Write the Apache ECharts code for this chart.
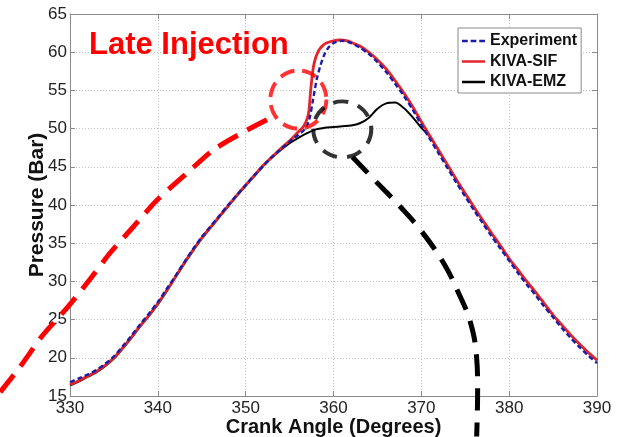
<!DOCTYPE html>
<html>
<head>
<meta charset="utf-8">
<script src="https://cdn.jsdelivr.net/npm/echarts@6/dist/echarts.min.js"></script>
<style>
html,body{margin:0;padding:0;background:#fff;}
#chart{width:619px;height:437px;}
</style>
</head>
<body>
<div id="chart"></div>
<script>
// ---- data ----
var xTicks = [330, 340, 350, 360, 370, 380, 390];
var yTicks = [15, 20, 25, 30, 35, 40, 45, 50, 55, 60, 65];

var expAngles = [330,331,332,333,334,335,336,337,338,339,340,341,342,343,344,345,346,347,348,349,350,351,352,353,354,355,356,356.7,357.2,357.7,358.1,358.5,359,359.5,360,361,362,363,364,365,366,367,368,369,370,371,372,373,374,375,376,377,378,379,380,381,382,383,384,385,386,387,388,389,390];
var expPressure = [16.8,17.3,17.8,18.4,19.2,20.2,21.5,22.9,24.4,25.8,27.3,29.0,30.7,32.5,34.2,35.8,37.2,38.6,40.0,41.3,42.6,43.9,45.1,46.3,47.3,48.3,49.2,49.9,51.0,54.0,56.5,58.2,59.8,60.7,61.2,61.5,61.2,60.6,59.8,58.7,57.4,55.9,54.3,52.5,50.5,48.6,46.7,44.8,42.9,41.1,39.3,37.6,35.9,34.3,32.7,31.1,29.6,28.2,26.7,25.3,23.9,22.6,21.4,20.3,19.3];

var sifAngles = [330,331,332,333,334,335,336,337,338,339,340,341,342,343,344,345,346,347,348,349,350,351,352,353,354,355,356,356.6,357,357.2,357.4,357.7,358,358.4,358.8,359.2,360,360.7,361.5,362,363,364,365,366,367,368,369,370,371,372,373,374,375,376,377,378,379,380,381,382,383,384,385,386,387,388,389,390];
var sifPressure = [16.5,17.0,17.6,18.2,19.0,20.0,21.3,22.7,24.2,25.6,27.1,28.8,30.6,32.4,34.1,35.7,37.1,38.5,39.9,41.3,42.6,43.9,45.2,46.3,47.4,48.4,49.6,50.3,51.3,52.3,55.0,58.0,59.4,60.4,60.9,61.2,61.5,61.6,61.5,61.3,60.8,60.0,59.0,57.8,56.3,54.7,52.9,50.9,49.0,47.1,45.2,43.3,41.5,39.7,38.0,36.3,34.7,33.0,31.5,30.0,28.6,27.1,25.6,24.3,23.0,21.8,20.7,19.7];

var emzAngles = [330,331,332,333,334,335,336,337,338,339,340,341,342,343,344,345,346,347,348,349,350,351,352,353,354,355,356,357,358,359,360,361,362,363,364,365,366,367,368,369,370,371,372,373,374,375,376,377,378,379,380,381,382,383,384,385,386,387,388,389,390];
var emzPressure = [16.4,16.9,17.5,18.1,18.9,19.9,21.2,22.6,24.1,25.5,27.0,28.7,30.5,32.3,34.0,35.6,37.0,38.4,39.8,41.2,42.5,43.8,45.1,46.2,47.2,48.1,48.8,49.4,49.9,50.1,50.2,50.3,50.4,50.7,51.4,52.6,53.3,53.4,52.7,51.5,50.1,48.9,47.1,45.2,43.3,41.5,39.7,38.0,36.3,34.7,33.0,31.5,30.0,28.6,27.1,25.6,24.3,23.0,21.8,20.7,19.7];

// annotation strokes (hand-drawn marks on the reference), in data units
var redArcAngles = [322.05,324.3,326.92,329.66,331.94,334.56,337.19,339.92,343.34,346.31,350.18,352.81];
var redArcPressure = [15.5,18.8,22.98,26.52,29.79,33.72,37.12,40.65,44.19,47.2,49.82,51.39];
var blackArcAngles = [362.16,364.78,367.63,369.91,372.53,374.24,375.61,376.29,376.41,376.3];
var blackArcPressure = [46.28,43.14,39.74,36.73,32.41,28.48,24.55,20.10,15.79,9.7];
var redCircle = [356.0, 53.8];
var blackCircle = [361.0, 49.9];

var seriesNames = ['Experiment', 'KIVA-SIF', 'KIVA-EMZ'];
var annotationText = 'Late Injection';

function pairs(a, b) { return a.map(function (v, i) { return [v, b[i]]; }); }

var FONT = '"Liberation Sans", Arial, Helvetica, sans-serif';
var chart = echarts.init(document.getElementById('chart'), null, {renderer: 'canvas'});

// plot box in pixels
var W = 619, H = 437, L = 70, R = 22, T = 14, B = 41;
var xMin = xTicks[0], xMax = xTicks[xTicks.length - 1];
var yMin = yTicks[0], yMax = yTicks[yTicks.length - 1];
var pxPerX = (W - L - R) / (xMax - xMin);
var pxPerY = (H - T - B) / (yMax - yMin);
// overlay axes covering the whole canvas with the same scale (for the hand-drawn marks)
var ovXMin = xMin - L / pxPerX, ovXMax = xMax + R / pxPerX;
var ovYMin = yMin - B / pxPerY, ovYMax = yMax + T / pxPerY;

var axisCommon = {
  type: 'value',
  axisLine: {show: true, lineStyle: {color: '#8a8a8a', width: 1}},
  axisTick: {show: true, inside: true, length: 5, lineStyle: {color: '#8a8a8a'}},
  splitLine: {show: false}
};

var solidIcon = 'path://M0,0h24v2.6h-24z';
var dashIcon = 'path://M0,0h6v2.6h-6z M9,0h6v2.6h-6z M18,0h6v2.6h-6z';

chart.setOption({
  animation: false,
  backgroundColor: '#ffffff',
  grid: [
    {left: L, right: R, top: T, bottom: B, containLabel: false, outerBoundsMode: 'none'},
    {left: 0, right: 0, top: 0, bottom: 0, containLabel: false, outerBoundsMode: 'none'}
  ],
  graphic: [{
    type: 'text', left: 89, top: 30, z: 100,
    style: {text: annotationText, fill: '#ff0000', font: 'bold 31px ' + FONT}
  }],
  legend: {
    data: [
      {name: seriesNames[0], icon: dashIcon},
      {name: seriesNames[1], icon: solidIcon},
      {name: seriesNames[2], icon: solidIcon}
    ],
    orient: 'vertical',
    left: 458, top: 28,
    padding: [5, 4, 3, 4],
    itemGap: 4.5,
    itemWidth: 23,
    itemHeight: 16,
    backgroundColor: '#ffffff',
    borderColor: '#8a8a8a',
    borderWidth: 1,
    borderRadius: 0,
    textStyle: {fontFamily: FONT, fontWeight: 'bold', fontSize: 16, color: '#111'},
    z: 50
  },
  xAxis: [
    Object.assign({}, axisCommon, {
      gridIndex: 0, min: xMin, max: xMax, interval: 10,
      name: 'Crank Angle (Degrees)', nameLocation: 'middle', nameGap: 21, nameMoveOverlap: false,
      nameTextStyle: {fontFamily: FONT, fontWeight: 'bold', fontSize: 20, color: '#111'},
      axisLabel: {fontFamily: FONT, fontSize: 17, color: '#222', margin: 4},
      splitLine: {show: true, lineStyle: {color: '#c4c4c4', type: [1, 2], width: 1}}
    }),
    Object.assign({}, axisCommon, {
      gridIndex: 0, position: 'top', min: xMin, max: xMax, interval: 10,
      axisLabel: {show: false}
    }),
    {type: 'value', gridIndex: 1, min: ovXMin, max: ovXMax, show: false}
  ],
  yAxis: [
    Object.assign({}, axisCommon, {
      gridIndex: 0, min: yMin, max: yMax, interval: 5,
      name: 'Pressure (Bar)', nameLocation: 'middle', nameGap: 22, nameRotate: 90, nameMoveOverlap: false,
      nameTextStyle: {fontFamily: FONT, fontWeight: 'bold', fontSize: 21, color: '#111'},
      axisLabel: {fontFamily: FONT, fontSize: 17, color: '#222', margin: 3},
      splitLine: {show: true, lineStyle: {color: '#c4c4c4', type: [1, 2], width: 1}}
    }),
    Object.assign({}, axisCommon, {
      gridIndex: 0, position: 'right', min: yMin, max: yMax, interval: 5,
      axisLabel: {show: false}
    }),
    {type: 'value', gridIndex: 1, min: ovYMin, max: ovYMax, show: false}
  ],
  series: [
    {
      name: seriesNames[2], type: 'line', data: pairs(emzAngles, emzPressure),
      showSymbol: false, symbol: 'none', smooth: 0.3, z: 3,
      lineStyle: {color: '#000000', width: 2}, itemStyle: {color: '#000000'}
    },
    {
      name: seriesNames[1], type: 'line', data: pairs(sifAngles, sifPressure),
      showSymbol: false, symbol: 'none', smooth: 0.3, z: 4,
      lineStyle: {color: '#e3262b', width: 2.8}, itemStyle: {color: '#e3262b'}
    },
    {
      name: seriesNames[0], type: 'line', data: pairs(expAngles, expPressure),
      showSymbol: false, symbol: 'none', smooth: 0.3, z: 5,
      lineStyle: {color: '#1c1ca8', width: 2.4, type: [5, 3]}, itemStyle: {color: '#1c1ca8'}
    },
    {
      name: 'redArc', type: 'line', xAxisIndex: 2, yAxisIndex: 2,
      data: pairs(redArcAngles, redArcPressure),
      showSymbol: false, symbol: 'none', smooth: 0.25, clip: false, silent: true, z: 8,
      lineStyle: {color: '#ff0000', width: 5, type: [22, 11]}
    },
    {
      name: 'blackArc', type: 'line', xAxisIndex: 2, yAxisIndex: 2,
      data: pairs(blackArcAngles, blackArcPressure),
      showSymbol: false, symbol: 'none', smooth: 0.4, clip: false, silent: true, z: 8,
      lineStyle: {color: '#000000', width: 5, type: [22, 12]}
    },
    {
      name: 'redRing', type: 'scatter', xAxisIndex: 2, yAxisIndex: 2,
      data: [redCircle], symbol: 'circle', symbolSize: [56, 58],
      silent: true, z: 9,
      itemStyle: {color: 'rgba(0,0,0,0)', borderColor: '#ff0000', borderWidth: 4, borderType: [15, 8]}
    },
    {
      name: 'blackRing', type: 'scatter', xAxisIndex: 2, yAxisIndex: 2,
      data: [blackCircle], symbol: 'circle', symbolSize: [58, 56],
      silent: true, z: 9,
      itemStyle: {color: 'rgba(0,0,0,0)', borderColor: '#000000', borderWidth: 4, borderType: [15, 10]}
    }
  ]
});
</script>
</body>
</html>
